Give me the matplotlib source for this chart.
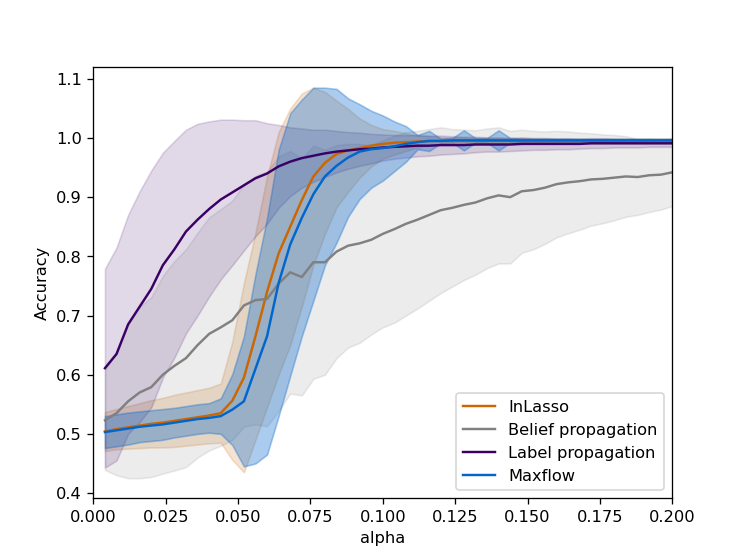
import numpy as np
import matplotlib
matplotlib.use('Agg')
import matplotlib.pyplot as plt

alpha = np.linspace(0.004, 0.2, 50)

il_mean = [0.504, 0.508, 0.511, 0.514, 0.517, 0.519, 0.522, 0.525, 0.528, 0.531,
           0.535, 0.556, 0.595, 0.665, 0.740, 0.805, 0.850, 0.895, 0.935, 0.958,
           0.973, 0.979, 0.983, 0.987, 0.990, 0.992, 0.993, 0.994, 0.995, 0.995,
           0.995, 0.995, 0.995, 0.995, 0.995, 0.995, 0.995, 0.995, 0.995, 0.995,
           0.995, 0.995, 0.995, 0.995, 0.995, 0.995, 0.995, 0.995, 0.995, 0.995]
il_std = [0.033, 0.034, 0.036, 0.038, 0.040, 0.042, 0.044, 0.045, 0.046, 0.047,
          0.050, 0.100, 0.160, 0.175, 0.195, 0.205, 0.200, 0.180, 0.150, 0.120,
          0.090, 0.070, 0.050, 0.035, 0.025, 0.020, 0.015, 0.010, 0.008, 0.006,
          0.006, 0.006, 0.005, 0.005, 0.005, 0.005, 0.005, 0.004, 0.004, 0.004,
          0.004, 0.004, 0.004, 0.004, 0.004, 0.004, 0.004, 0.004, 0.004, 0.004]

bp_mean = [0.523, 0.535, 0.555, 0.570, 0.579, 0.600, 0.615, 0.628, 0.650, 0.669,
           0.680, 0.692, 0.717, 0.726, 0.728, 0.754, 0.773, 0.765, 0.790, 0.790,
           0.808, 0.818, 0.822, 0.828, 0.838, 0.846, 0.855, 0.862, 0.870, 0.878,
           0.882, 0.887, 0.891, 0.898, 0.903, 0.900, 0.910, 0.912, 0.916, 0.922,
           0.925, 0.927, 0.930, 0.931, 0.933, 0.935, 0.934, 0.937, 0.938, 0.942]
bp_std = [0.084, 0.105, 0.130, 0.145, 0.152, 0.167, 0.177, 0.184, 0.190, 0.197,
          0.200, 0.202, 0.205, 0.210, 0.215, 0.215, 0.205, 0.200, 0.197, 0.190,
          0.180, 0.172, 0.168, 0.160, 0.158, 0.158, 0.155, 0.150, 0.145, 0.140,
          0.133, 0.127, 0.122, 0.118, 0.115, 0.112, 0.104, 0.100, 0.095, 0.090,
          0.086, 0.082, 0.078, 0.075, 0.072, 0.068, 0.064, 0.062, 0.059, 0.057]

lp_mean = [0.611, 0.635, 0.685, 0.715, 0.745, 0.785, 0.812, 0.842, 0.862, 0.880,
           0.896, 0.908, 0.920, 0.932, 0.940, 0.952, 0.960, 0.966, 0.970, 0.974,
           0.977, 0.979, 0.981, 0.982, 0.984, 0.985, 0.986, 0.987, 0.987, 0.988,
           0.988, 0.988, 0.989, 0.989, 0.989, 0.989, 0.990, 0.990, 0.990, 0.990,
           0.990, 0.990, 0.991, 0.991, 0.991, 0.991, 0.991, 0.991, 0.991, 0.991]
lp_std = [0.168, 0.180, 0.185, 0.195, 0.200, 0.190, 0.183, 0.172, 0.162, 0.148,
          0.135, 0.123, 0.110, 0.098, 0.085, 0.070, 0.058, 0.050, 0.044, 0.040,
          0.035, 0.031, 0.028, 0.025, 0.022, 0.020, 0.019, 0.018, 0.017, 0.016,
          0.015, 0.014, 0.013, 0.012, 0.012, 0.011, 0.011, 0.010, 0.010, 0.009,
          0.009, 0.008, 0.008, 0.008, 0.007, 0.007, 0.007, 0.006, 0.006, 0.006]

mf_mean = [0.503, 0.506, 0.509, 0.512, 0.514, 0.516, 0.519, 0.522, 0.525, 0.527,
           0.530, 0.541, 0.555, 0.610, 0.665, 0.755, 0.820, 0.865, 0.905, 0.935,
           0.953, 0.967, 0.977, 0.981, 0.983, 0.986, 0.990, 0.993, 0.995, 0.995,
           0.996, 0.996, 0.996, 0.996, 0.996, 0.996, 0.996, 0.996, 0.996, 0.996,
           0.996, 0.996, 0.996, 0.996, 0.996, 0.996, 0.996, 0.996, 0.996, 0.996]
mf_std = [0.027, 0.027, 0.027, 0.026, 0.026, 0.026, 0.025, 0.025, 0.025, 0.025,
          0.030, 0.060, 0.110, 0.160, 0.200, 0.225, 0.222, 0.200, 0.180, 0.150,
          0.130, 0.100, 0.080, 0.065, 0.055, 0.042, 0.030, 0.012, 0.017, 0.004,
          0.004, 0.017, 0.004, 0.004, 0.017, 0.004, 0.003, 0.003, 0.003, 0.003,
          0.003, 0.003, 0.003, 0.003, 0.003, 0.003, 0.003, 0.003, 0.003, 0.003]

methods = [
    ('InLasso', il_mean, il_std, '#cc6600', 0.18),
    ('Belief propagation', bp_mean, bp_std, '#808080', 0.15),
    ('Label propagation', lp_mean, lp_std, '#3a0066', 0.15),
    ('Maxflow', mf_mean, mf_std, '#0066cc', 0.33),
]

fig, ax = plt.subplots(figsize=(6.4, 4.8), dpi=116.72)
for name, m, s, c, a in methods:
    m = np.array(m)
    s = np.array(s)
    ax.plot(alpha, m, color=c, label=name)
    ax.fill_between(alpha, m - s, m + s, color=c, alpha=a)

ax.set_xlim(0, 0.2)
ax.set_ylim(0.391, 1.12)
ax.set_xlabel('alpha')
ax.set_ylabel('Accuracy')
ax.legend(loc='lower right')
plt.savefig('out.png')
